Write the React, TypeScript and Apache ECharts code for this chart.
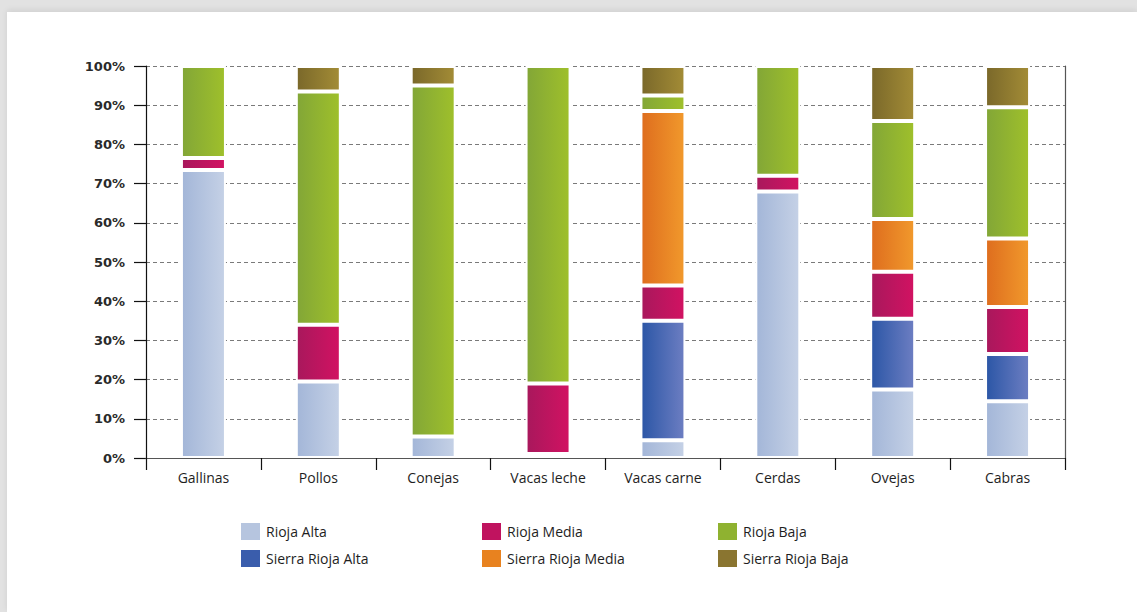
import React, { useEffect, useRef } from "react";
import * as echarts from "echarts";

const categories = ["Gallinas", "Pollos", "Conejas", "Vacas leche", "Vacas carne", "Cerdas", "Ovejas", "Cabras"];
const seriesNames = ["Rioja Alta", "Sierra Rioja Alta", "Rioja Media", "Sierra Rioja Media", "Rioja Baja", "Sierra Rioja Baja"];

const riojaAlta = [73.5, 19.5, 5.5, 1, 4.5, 68, 17.5, 14.5];
const sierraRiojaAlta = [0, 0, 0, 0, 30.5, 0, 18, 12];
const riojaMedia = [3, 14.5, 0, 18, 9, 4, 12, 12];
const sierraRiojaMedia = [0, 0, 0, 0, 44.5, 0, 13.5, 17.5];
const riojaBaja = [23.5, 59.5, 89.5, 81, 4, 28, 25, 33.5];
const sierraRiojaBaja = [0, 6.5, 5, 0, 7.5, 0, 14, 10.5];

const yTicks = [0, 10, 20, 30, 40, 50, 60, 70, 80, 90, 100];

const seriesValues = [riojaAlta, sierraRiojaAlta, riojaMedia, sierraRiojaMedia, riojaBaja, sierraRiojaBaja];

const gradients: [string, string][] = [
  ["#a3b6d8", "#c5d1e6"],
  ["#2b56a6", "#6d7ec2"],
  ["#a8185c", "#d21262"],
  ["#de6d1e", "#f1992c"],
  ["#82a637", "#9fc02b"],
  ["#7a682a", "#a38c36"],
];
const legendSolid = ["#b6c5df", "#3a5dac", "#c0135f", "#e8821f", "#8fb230", "#8a7530"];

// legend layout: [left, top] for each series
const legendPos: [number, number][] = [
  [241, 523],
  [241, 550],
  [482, 523],
  [482, 550],
  [718, 523],
  [718, 550],
];

export default function App() {
  const ref = useRef<HTMLDivElement>(null);
  useEffect(() => {
    if (!ref.current) return;
    const chart = echarts.init(ref.current, null, { renderer: "svg" });
    const series = seriesNames.map((name, i) => ({
      name,
      type: "bar",
      stack: "total",
      barWidth: 45,
      xAxisIndex: 0,
      yAxisIndex: 0,
      data: seriesValues[i].map((v) => (v === 0 ? null : v)),
      itemStyle: {
        color: new echarts.graphic.LinearGradient(0, 0, 1, 0, [
          { offset: 0, color: gradients[i][0] },
          { offset: 1, color: gradients[i][1] },
        ]),
        borderColor: "#ffffff",
        borderWidth: 2,
      },
    }));
    const legends = seriesNames.map((name, i) => ({
      show: true,
      left: legendPos[i][0],
      top: legendPos[i][1],
      orient: "horizontal",
      padding: 0,
      itemWidth: 19,
      itemHeight: 17,
      icon: "rect",
      selectedMode: false,
      data: [{ name, itemStyle: { color: legendSolid[i], borderWidth: 0 } }],
      textStyle: { fontFamily: "Open Sans", fontSize: 14, color: "#1e1e1e", padding: [0, 0, 0, 1] },
    }));
    chart.setOption({
      animation: false,
      grid: { left: 146, right: 72, top: 66, bottom: 154, containLabel: false },
      legend: legends,
      xAxis: [
        {
          type: "category",
          data: categories,
          position: "bottom",
          z: 5,
          axisLine: { show: true, lineStyle: { color: "#111", width: 1.2 } },
          axisTick: { show: true, length: 12, interval: 0, lineStyle: { color: "#111", width: 1.2 } },
          axisLabel: { margin: 12, fontFamily: "Open Sans", fontSize: 14, color: "#1e1e1e", interval: 0 },
          splitLine: { show: false },
        },
        {
          type: "category",
          data: categories,
          position: "top",
          z: 5,
          axisLine: { show: true, lineStyle: { color: "#555", width: 1.2 } },
          axisTick: { show: false },
          axisLabel: { show: false },
          splitLine: { show: false },
        },
      ],
      yAxis: [
        {
          type: "value",
          min: yTicks[0],
          max: yTicks[yTicks.length - 1],
          interval: 10,
          axisLine: { show: true, lineStyle: { color: "#111", width: 1.2 } },
          axisTick: { show: true, length: 12, lineStyle: { color: "#111", width: 1.2 } },
          axisLabel: {
            margin: 21,
            formatter: "{value}%",
            fontFamily: "DejaVu Sans",
            fontWeight: "bold",
            fontSize: 13,
            color: "#2a2a2a",
          },
          splitLine: { show: true, lineStyle: { color: "#7a7a7a", type: [4, 3], width: 1 } },
        },
        {
          type: "value",
          position: "right",
          min: 0,
          max: 100,
          interval: 10,
          z: 5,
          axisLine: { show: true, lineStyle: { color: "#555", width: 1.2 } },
          axisTick: { show: false },
          axisLabel: { show: false },
          splitLine: { show: false },
        },
      ],
      series,
    });
    return () => chart.dispose();
  }, []);

  return (
    <div style={{ position: "fixed", left: 0, top: 0, width: 1137, height: 612, background: "#e2e2e2", overflow: "hidden" }}>
      <div
        style={{
          position: "absolute",
          left: 7,
          top: 12,
          width: 1130,
          height: 600,
          background: "#ffffff",
          boxShadow: "0 -2px 6px rgba(0,0,0,0.08)",
        }}
      />
      <div ref={ref} style={{ position: "absolute", left: 0, top: 0, width: 1137, height: 612 }} />
    </div>
  );
}
